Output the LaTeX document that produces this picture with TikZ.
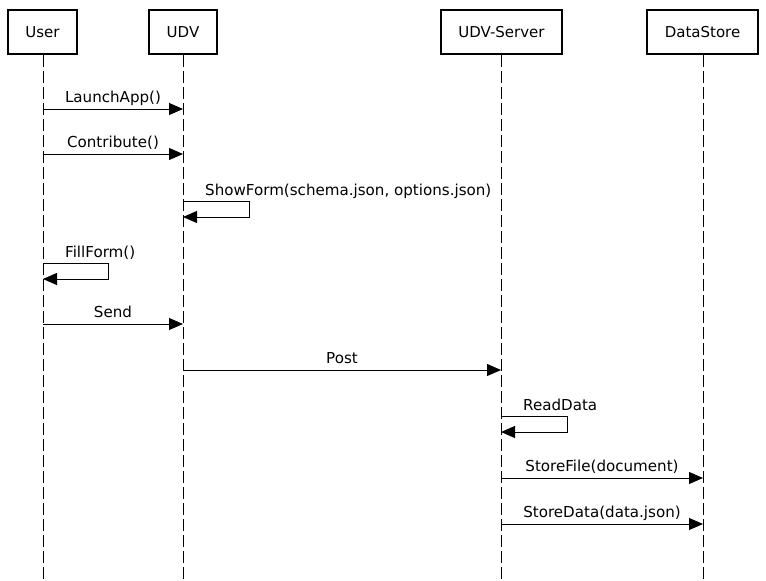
\documentclass[tikz,border=0pt]{standalone}
\usepackage{fontspec}
\setmainfont{DejaVu Sans}
\usetikzlibrary{arrows.meta}
\tikzset{
  actor/.style={draw, line width=2pt, minimum height=44pt, inner sep=0pt, font=\fontsize{15}{17}\selectfont, fill=white},
  life/.style={line width=1pt, dash pattern=on 12pt off 4pt},
  msg/.style={line width=1pt, -{Triangle[length=14pt,width=12pt]}},
  lbl/.style={font=\fontsize{15.1}{17}\selectfont, inner sep=0pt},
}
\begin{document}
\begin{tikzpicture}[x=1pt,y=-1pt]
\useasboundingbox (0,0) rectangle (766,581);
% actors
\node[actor, minimum width=69pt] (user) at (42.5,32) {User};
\node[actor, minimum width=68pt] (udv) at (183,32) {UDV};
\node[actor, minimum width=121pt] (srv) at (501.5,32) {UDV-Server};
\node[actor, minimum width=111pt] (ds) at (702.5,32) {DataStore};
% lifeline ends
\coordinate (userE) at (43,581);
\coordinate (udvE) at (183,581);
\coordinate (srvE) at (501,581);
\coordinate (dsE) at (703,581);
\draw[life] (user.south -| userE) -- (userE);
\draw[life] (udv.south -| udvE) -- (udvE);
\draw[life] (srv.south -| srvE) -- (srvE);
\draw[life] (ds.south -| dsE) -- (dsE);
% message points
\coordinate (m1a) at (43,109); \coordinate (m1b) at (183,109);
\coordinate (m2a) at (43,154); \coordinate (m2b) at (183,154);
\coordinate (m3a) at (183,201); \coordinate (m3b) at (183,217);
\coordinate (m4a) at (43,263); \coordinate (m4b) at (43,279);
\coordinate (m5a) at (43,324); \coordinate (m5b) at (183,324);
\coordinate (m6a) at (183,370); \coordinate (m6b) at (501,370);
\coordinate (m7a) at (501,416); \coordinate (m7b) at (501,432);
\coordinate (m8a) at (501,478); \coordinate (m8b) at (703,478);
\coordinate (m9a) at (501,524); \coordinate (m9b) at (703,524);
% messages
\draw[msg] (m1a) -- (m1b) node[lbl, midway, anchor=base, yshift=7pt] {LaunchApp()};
\draw[msg] (m2a) -- (m2b) node[lbl, midway, anchor=base, yshift=7pt] {Contribute()};
\draw[msg] (m3a) -- ++(66,0) |- (m3b);
\node[lbl, anchor=base west] (l3) at ([shift={(22,-6)}]m3a) {ShowForm(schema.json, options.json)};
\draw[msg] (m4a) -- ++(65,0) |- (m4b);
\node[lbl, anchor=base west] (l4) at ([shift={(22,-6)}]m4a) {FillForm()};
\draw[msg] (m5a) -- (m5b) node[lbl, midway, anchor=base, yshift=7pt] {Send};
\draw[msg] (m6a) -- (m6b) node[lbl, midway, anchor=base, yshift=7pt] {Post};
\draw[msg] (m7a) -- ++(66,0) |- (m7b);
\node[lbl, anchor=base west] (l7) at ([shift={(22,-6)}]m7a) {ReadData};
\draw[msg] (m8a) -- (m8b) node[lbl, midway, anchor=base, yshift=7pt] {StoreFile(document)};
\draw[msg] (m9a) -- (m9b) node[lbl, midway, anchor=base, yshift=7pt] {StoreData(data.json)};
\end{tikzpicture}
\end{document}
